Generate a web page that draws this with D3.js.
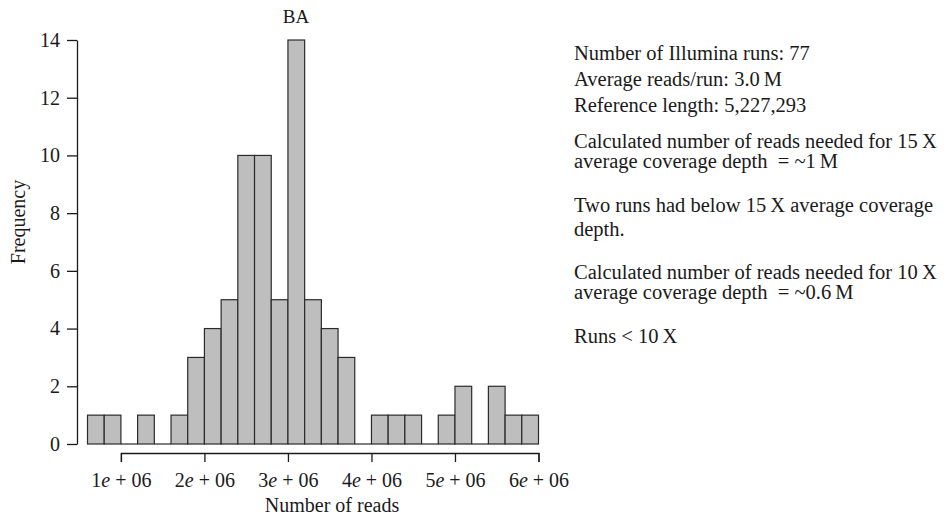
<!DOCTYPE html>
<html>
<head>
<meta charset="utf-8">
<script src="https://cdn.jsdelivr.net/npm/d3@7"></script>
<style>
  body { margin: 0; background: #fff; }
  svg { display: block; font-family: "Liberation Serif", "DejaVu Serif", serif; }
</style>
</head>
<body>
<svg id="chart" width="951" height="517"></svg>
<script>
// histogram bins (left edge, reads) and counts
const binLefts = [600000, 800000, 1000000, 1200000, 1400000, 1600000, 1800000, 2000000, 2200000,
  2400000, 2600000, 2800000, 3000000, 3200000, 3400000, 3600000, 3800000, 4000000, 4200000,
  4400000, 4600000, 4800000, 5000000, 5200000, 5400000, 5600000, 5800000];
const counts = [1, 1, 0, 1, 0, 1, 3, 4, 5, 10, 10, 5, 14, 5, 4, 3, 0, 1, 1, 1, 0, 1, 2, 0, 2, 1, 1];
const binWidth = 200000;

const xTicks = [1000000, 2000000, 3000000, 4000000, 5000000, 6000000];
const yTicks = [0, 2, 4, 6, 8, 10, 12, 14];

const title = "BA";
const xTitle = "Number of reads";
const yTitle = "Frequency";

// notes on the right, grouped in blocks
const noteBlocks = [
  ["Number of Illumina runs: 77"],
  ["Average reads/run: 3.0\u2009M"],
  ["Reference length: 5,227,293"],
  ["Calculated number of reads needed for 15\u2009X", "average coverage depth\u2002= ~1\u2009M"],
  ["Two runs had below 15\u2009X average coverage", "depth."],
  ["Calculated number of reads needed for 10\u2009X", "average coverage depth\u2002= ~0.6\u2009M"],
  ["Runs < 10\u2009X"]
];
const noteY = [60, 86, 112, 148, 212, 279, 343];
const noteGap = [0, 0, 0, 20, 24, 20, 0];

const svg = d3.select("#chart");

const x = d3.scaleLinear().domain([600000, 6000000]).range([87.5, 538.5]);
const y = d3.scaleLinear().domain([0, 14]).range([444, 40]);

// bars
const bins = binLefts.map((b, i) => ({ x0: b, x1: b + binWidth, n: counts[i] }));

svg.append("g")
  .selectAll("rect")
  .data(bins.filter(d => d.n > 0))
  .join("rect")
  .attr("x", d => x(d.x0))
  .attr("y", d => y(d.n))
  .attr("width", d => x(d.x1) - x(d.x0))
  .attr("height", d => y(0) - y(d.n))
  .attr("fill", "#bebebe")
  .attr("stroke", "#2b2b2b")
  .attr("stroke-width", 1.2);

// empty bins only show the base line
svg.append("g")
  .selectAll("line")
  .data(bins.filter(d => d.n === 0))
  .join("line")
  .attr("x1", d => x(d.x0))
  .attr("x2", d => x(d.x1))
  .attr("y1", y(0))
  .attr("y2", y(0))
  .attr("stroke", "#2b2b2b")
  .attr("stroke-width", 1.2);

// y axis
const yAxis = svg.append("g")
  .attr("transform", "translate(77,0)")
  .call(d3.axisLeft(y).tickValues(yTicks).tickSize(10).tickSizeOuter(0).tickPadding(7));
yAxis.selectAll("path, line").attr("stroke", "#1a1a1a").attr("stroke-width", 1.3);
yAxis.selectAll("text")
  .attr("fill", "#1a1a1a")
  .style("font-family", "Liberation Serif")
  .style("font-size", "20px");

// x axis: the line runs only from the first to the last tick
const xa = x.copy().domain([xTicks[0], xTicks[xTicks.length - 1]])
  .range([x(xTicks[0]), x(xTicks[xTicks.length - 1])]);
const xAxis = svg.append("g")
  .attr("transform", "translate(0,453)")
  .call(d3.axisBottom(xa).tickValues(xTicks).tickSize(9).tickSizeOuter(9).tickFormat(""));
xAxis.selectAll("path, line").attr("stroke", "#1a1a1a").attr("stroke-width", 1.3);

xAxis.selectAll(".tick").append("text")
  .attr("y", 34)
  .attr("text-anchor", "middle")
  .attr("fill", "#1a1a1a")
  .style("font-family", "Liberation Serif")
  .style("font-size", "20px")
  .each(function(d) {
    const t = d3.select(this);
    t.append("tspan").text(String(d / 1000000));
    t.append("tspan").style("font-style", "italic").text("e");
    t.append("tspan").text(" + 06");
  });

// titles
svg.append("text")
  .attr("x", 296)
  .attr("y", 23)
  .attr("text-anchor", "middle")
  .style("font-size", "19px")
  .attr("fill", "#1a1a1a")
  .text(title);

svg.append("text")
  .attr("x", 332)
  .attr("y", 512)
  .attr("text-anchor", "middle")
  .style("font-size", "20px")
  .attr("fill", "#1a1a1a")
  .text(xTitle);

svg.append("text")
  .attr("transform", "translate(25,222) rotate(-90)")
  .attr("text-anchor", "middle")
  .style("font-size", "20px")
  .attr("fill", "#1a1a1a")
  .text(yTitle);

// notes
const notes = svg.append("g").attr("fill", "#1a1a1a").style("font-size", "20.5px");
noteBlocks.forEach((lines, i) => {
  lines.forEach((s, j) => {
    notes.append("text")
      .attr("x", 574)
      .attr("y", noteY[i] + j * noteGap[i])
      .text(s);
  });
});
</script>
</body>
</html>
